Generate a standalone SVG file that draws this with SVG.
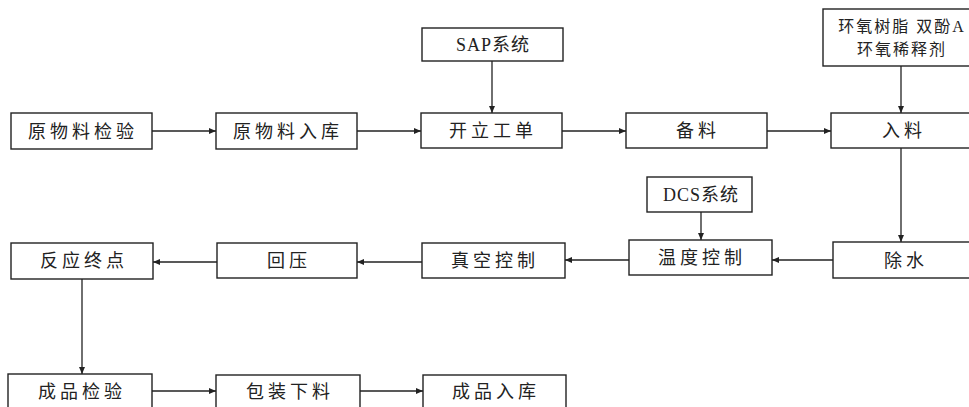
<svg xmlns="http://www.w3.org/2000/svg" width="969" height="407" viewBox="0 0 969 407">
<defs>
<style>
.b{fill:#fff;stroke:#222;stroke-width:1.4}
.t{font-family:"Liberation Serif","Noto Sans CJK SC",serif;font-size:18px;fill:#222;text-anchor:middle;letter-spacing:4px}
.s{font-family:"Liberation Serif","Noto Sans CJK SC",serif;font-size:16px;fill:#222;text-anchor:middle;letter-spacing:2px}
.c line{stroke:#222;stroke-width:1.3;marker-end:url(#a)}
</style>
<marker id="a" markerUnits="userSpaceOnUse" markerWidth="8" markerHeight="8" refX="7" refY="4" orient="auto">
<path d="M0,1 L7,4 L0,7 Z" fill="#222"/>
</marker>
</defs>
<rect width="969" height="407" fill="#fff"/>
<g class="c">
<line x1="152" y1="131" x2="216" y2="131"/>
<line x1="357" y1="131" x2="421" y2="131"/>
<line x1="562" y1="131" x2="626" y2="131"/>
<line x1="767" y1="131" x2="831" y2="131"/>
<line x1="492" y1="61" x2="492" y2="113"/>
<line x1="901" y1="66" x2="901" y2="113"/>
<line x1="901" y1="148" x2="901" y2="242"/>
<line x1="833" y1="260" x2="772" y2="260"/>
<line x1="701" y1="212" x2="701" y2="240"/>
<line x1="629" y1="260" x2="565" y2="260"/>
<line x1="422" y1="262" x2="357" y2="262"/>
<line x1="217" y1="262" x2="153" y2="262"/>
<line x1="82" y1="279" x2="82" y2="374"/>
<line x1="152" y1="391" x2="216" y2="391"/>
<line x1="360" y1="391" x2="423" y2="391"/>
</g>
<g id="n1"><rect class="b" x="11" y="113" width="141" height="36"/><text class="t" x="83" y="138">原物料检验</text></g>
<g id="n2"><rect class="b" x="216" y="113" width="141" height="36"/><text class="t" x="288" y="138">原物料入库</text></g>
<g id="n3"><rect class="b" x="421" y="113" width="141" height="35"/><text class="t" x="493" y="137">开立工单</text></g>
<g id="sap"><rect class="b" x="422" y="28" width="141" height="33"/><text class="s" x="493" y="51" style="font-size:18px;letter-spacing:1px">SAP系统</text></g>
<g id="n4"><rect class="b" x="626" y="113" width="141" height="35"/><text class="t" x="698" y="137">备料</text></g>
<g id="mat"><rect class="b" x="823" y="9" width="160" height="57"/><text class="s" x="902" y="32">环氧树脂 双酚A</text><text class="s" x="902" y="55">环氧稀释剂</text></g>
<g id="n5"><rect class="b" x="831" y="113" width="146" height="35"/><text class="t" x="904" y="137">入料</text></g>
<g id="n6"><rect class="b" x="833" y="242" width="146" height="36"/><text class="t" x="906" y="267">除水</text></g>
<g id="dcs"><rect class="b" x="647" y="177" width="105" height="35"/><text class="s" x="701" y="201" style="font-size:18px;letter-spacing:1px">DCS系统</text></g>
<g id="n7"><rect class="b" x="629" y="240" width="143" height="35"/><text class="t" x="702" y="264">温度控制</text></g>
<g id="n8"><rect class="b" x="422" y="243" width="143" height="35"/><text class="t" x="495" y="267">真空控制</text></g>
<g id="n9"><rect class="b" x="217" y="243" width="140" height="35"/><text class="t" x="289" y="267">回压</text></g>
<g id="n10"><rect class="b" x="11" y="243" width="142" height="36"/><text class="t" x="84" y="267">反应终点</text></g>
<g id="n11"><rect class="b" x="8" y="374" width="144" height="40"/><text class="t" x="82" y="398">成品检验</text></g>
<g id="n12"><rect class="b" x="216" y="375" width="144" height="40"/><text class="t" x="290" y="398">包装下料</text></g>
<g id="n13"><rect class="b" x="423" y="375" width="143" height="40"/><text class="t" x="496" y="398">成品入库</text></g>
</svg>
